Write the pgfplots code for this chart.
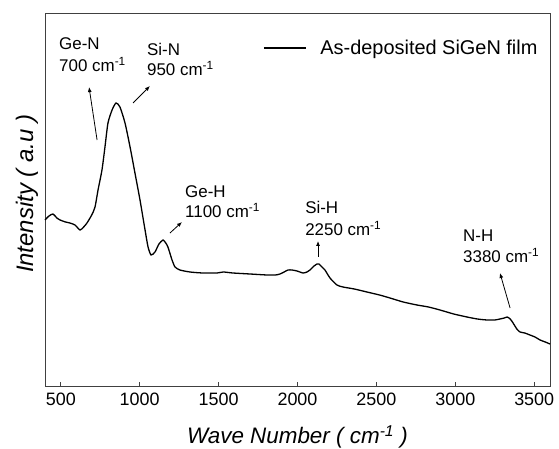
\documentclass[border=0pt]{standalone}
\usepackage{fontspec}
\setmainfont{Liberation Sans}
\usepackage{pgfplots}
\pgfplotsset{compat=1.18}
\usetikzlibrary{arrows.meta}
\begin{document}
\begin{tikzpicture}
\begin{axis}[
  scale only axis,
  width=505bp, height=373bp,
  xmin=400, xmax=3600, ymin=0, ymax=373,
  xtick={500,1000,1500,2000,2500,3000,3500},
  ytick=\empty,
  tick pos=bottom,
  tick align=inside,
  major tick length=4bp,
  axis line style={line width=0.8bp, black!75},
  every tick/.style={black!75, line width=0.7bp},
  /pgf/number format/assume math mode=true,
  /pgf/number format/1000 sep={},
  xticklabel style={font=\fontsize{18}{20}\selectfont, yshift=-3bp},
  every axis x label/.style={at={(axis description cs:0.5,-0.137)}, anchor=center},
  every axis y label/.style={at={(axis description cs:-0.036,0.515)}, rotate=90, anchor=center},
  xlabel={\fontsize{22.5}{24}\selectfont\itshape Wave Number ( cm\textsuperscript{-1} )},
  ylabel={\fontsize{24}{26}\selectfont\itshape Intensity ( a.u )},
  clip=false,
  legend style={draw=none, fill=none, at={(axis cs:1781,338)}, anchor=west,
    inner sep=0pt, font=\fontsize{20}{22}\selectfont,
    /tikz/every odd column/.append style={column sep=12bp}},
  legend image code/.code={\draw[#1] (0bp,0bp) -- (42bp,0bp);},
]
\addplot[black, line width=1.3bp, smooth, tension=0.4] coordinates {
(400,166) (425,170) (451,172) (475,168) (495,166) (530,164) (558,163) (590,161)
(622,156) (645,159) (666,163) (696,171) (717,179) (736,196) (761,216) (780,239)
(799,263) (825,276) (850,283) (875,279) (907,263) (939,239) (970,213) (1002,186)
(1034,156) (1053,139) (1072,131) (1097,134) (1122,142) (1148,146) (1165,143)
(1179,139) (1205,126) (1224,119) (1255,116) (1319,114) (1400,113) (1490,113)
(1530,114) (1591,113) (1699,112) (1807,111) (1860,111) (1889,112) (1915,114)
(1940,116) (1965,116) (1997,115) (2035,113) (2060,114) (2079,116) (2105,120)
(2124,122) (2136,122) (2155,119) (2174,116) (2206,108) (2250,101) (2288,99)
(2360,97) (2440,94) (2520,91) (2586,88) (2670,84) (2757,81) (2830,79) (2903,76)
(2990,72) (3074,69) (3140,67) (3201,66) (3250,66) (3283,67) (3310,68) (3328,69)
(3348,67) (3366,63) (3390,57) (3410,54) (3440,53) (3473,51) (3505,49) (3537,46)
(3570,44) (3600,42)
};
\addlegendentry{As-deposited SiGeN film}

\begin{scope}[font=\fontsize{17}{19}\selectfont]
\node[anchor=base west, inner sep=0pt] at (axis cs:489,336) {Ge-N};
\node[anchor=base west, inner sep=0pt] at (axis cs:489,314) {700 cm\textsuperscript{-1}};
\node[anchor=base west, inner sep=0pt] at (axis cs:1046,330) {Si-N};
\node[anchor=base west, inner sep=0pt] at (axis cs:1046,310) {950 cm\textsuperscript{-1}};
\node[anchor=base west, inner sep=0pt] at (axis cs:1287,188) {Ge-H};
\node[anchor=base west, inner sep=0pt] at (axis cs:1287,168) {1100 cm\textsuperscript{-1}};
\node[anchor=base west, inner sep=0pt] at (axis cs:2048,172) {Si-H};
\node[anchor=base west, inner sep=0pt] at (axis cs:2048,150) {2250 cm\textsuperscript{-1}};
\node[anchor=base west, inner sep=0pt] at (axis cs:3049,144) {N-H};
\node[anchor=base west, inner sep=0pt] at (axis cs:3049,123) {3380 cm\textsuperscript{-1}};
\end{scope}
\begin{scope}[line width=0.8bp, -{Latex[length=5bp,width=4bp]}]
\draw (axis cs:730,246) -- (axis cs:679,299);
\draw (axis cs:958,283) -- (axis cs:1065,300);
\draw (axis cs:1192,153) -- (axis cs:1268,164);
\draw (axis cs:2130,129) -- (axis cs:2130,145);
\draw (axis cs:3347,78) -- (axis cs:3283,113);
\end{scope}
\end{axis}
\pgfresetboundingbox
\path ([xshift=-45bp,yshift=-63bp]current axis.south west) rectangle ([xshift=9bp,yshift=13bp]current axis.north east);
\end{tikzpicture}
\end{document}
